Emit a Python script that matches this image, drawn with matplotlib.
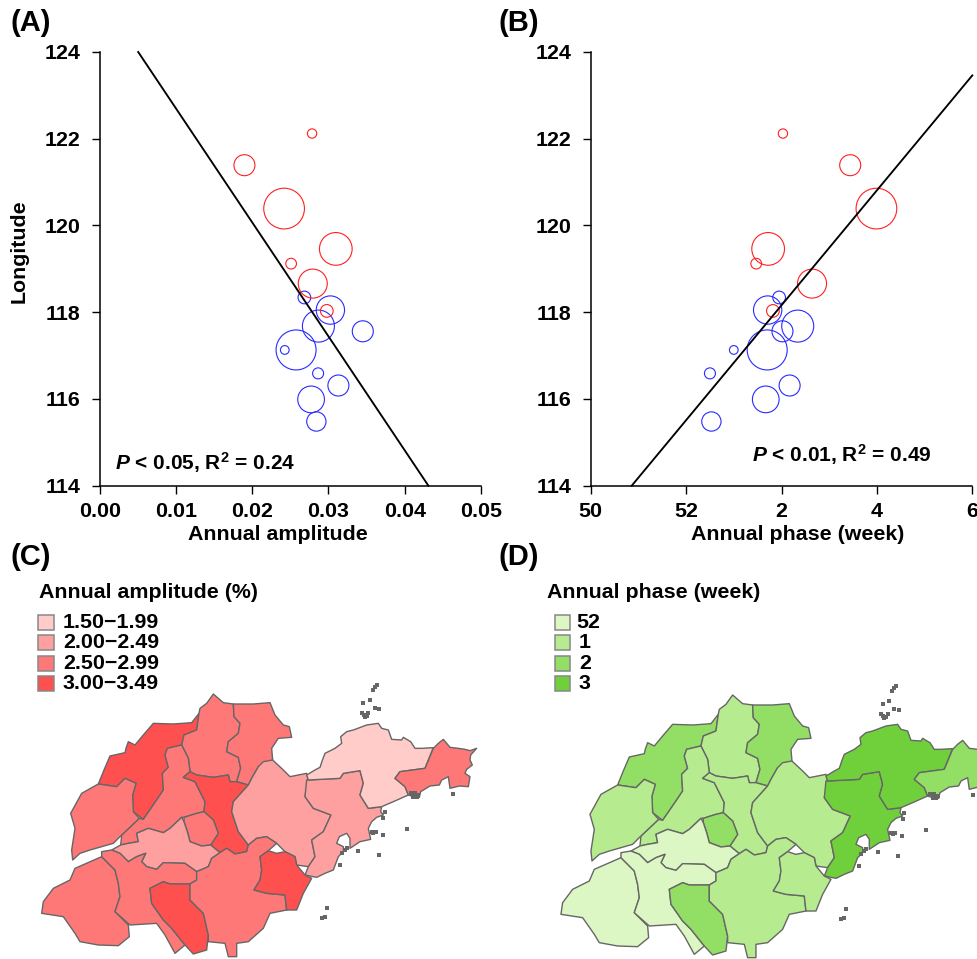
import numpy as np
import matplotlib
matplotlib.use('Agg')
import matplotlib.pyplot as plt
from matplotlib.patches import Polygon, Rectangle

plt.rcParams['font.family'] = 'Liberation Sans'
plt.rcParams['font.weight'] = 'bold'
plt.rcParams['mathtext.fontset'] = 'custom'
plt.rcParams['mathtext.rm'] = 'Liberation Sans:bold'
plt.rcParams['mathtext.it'] = 'Liberation Sans:italic:bold'
plt.rcParams['mathtext.bf'] = 'Liberation Sans:bold'

W, H = 978, 959
FS = 15.4

# stations, north to south
longitude = [122.12, 121.39, 120.39, 119.46, 119.12, 118.66, 118.34, 118.05, 118.03,
             117.68, 117.56, 117.13, 117.13, 116.59, 116.31, 115.99, 115.48]
amplitude = [0.02785, 0.01898, 0.02418, 0.03096, 0.0251, 0.02794, 0.02684, 0.03025, 0.02978,
             0.02868, 0.0345, 0.02575, 0.02427, 0.02864, 0.0313, 0.02772, 0.02841]
phase = [54.03, 55.44, 55.99, 53.72, 53.47, 54.64, 53.95, 53.71, 53.82,
         54.34, 54.02, 53.70, 53.00, 52.50, 54.17, 53.67, 52.53]
diameter = [9.3, 21, 40.7, 32.7, 10.7, 29, 12.7, 28.3, 12.7, 32, 21, 40, 8.7, 11, 21, 26.7, 19.3]
group = ['r', 'r', 'r', 'r', 'r', 'r', 'b', 'b', 'r', 'b', 'b', 'b', 'b', 'b', 'b', 'b', 'b']

fit_a_x = [0.00505, 0.0431]
fit_a_y = [124, 114]
fit_b_x = [50.86, 58]
fit_b_y = [114, 123.46]

phase_ticks = [50, 52, 54, 56, 58]
phase_labels = ['50', '52', '2', '4', '6']

amp_title = 'Annual amplitude (%)'
amp_labels = ['1.50\u22121.99', '2.00\u22122.49', '2.50\u22122.99', '3.00\u22123.49']
amp_colors = ['#FFCCC9', '#FFA0A0', '#FF7878', '#FF5050']
ph_title = 'Annual phase (week)'
ph_labels = ['52', '1', '2', '3']
ph_colors = ['#DCF7C3', '#B6EC8F', '#93DF66', '#70D03C']

# prefecture outlines
dezhou = [(295,312),(312,270),(330,228),(375,218),(378,205),(385,185),(405,195),(430,165),(460,130),(520,132),(575,128),(597,100),(590,150),(552,165),(545,195),(502,205),(495,225),(505,262),(487,280),(490,330),(470,360),(430,418),(400,395),(398,345),(408,310),(375,295),(350,320)]
binzhou = [(597,100),(600,85),(620,70),(640,42),(670,68),(700,72),(702,110),(720,130),(715,160),(685,185),(680,215),(715,232),(722,265),(710,305),(690,305),(685,285),(640,292),(590,285),(570,275),(565,235),(545,195),(552,165),(590,150)]
dongying = [(700,72),(760,72),(810,68),(825,105),(850,135),(868,140),(875,172),(835,175),(815,205),(818,240),(775,260),(755,295),(745,315),(710,305),(722,265),(715,232),(680,215),(685,185),(715,160),(720,130),(702,110)]
jinan = [(502,205),(545,195),(565,235),(570,275),(550,292),(585,305),(615,365),(612,395),(590,400),(552,412),(545,412),(510,445),(490,458),(445,445),(410,460),(415,485),(385,490),(362,495),(365,465),(418,415),(430,418),(470,360),(490,330),(487,280),(505,262),(495,225)]
zibo = [(550,292),(570,275),(590,285),(640,292),(685,285),(690,305),(710,305),(745,315),(700,365),(695,395),(715,455),(745,495),(740,515),(705,522),(680,505),(660,518),(632,495),(655,460),(640,420),(612,395),(615,365),(585,305)]
laiwu = [(552,412),(590,400),(612,395),(640,420),(655,460),(632,495),(605,498),(570,485),(562,455),(552,425)]
weifang = [(745,315),(755,295),(775,260),(790,245),(818,240),(850,270),(870,290),(920,280),(925,300),(915,350),(940,385),(993,405),(970,455),(935,480),(945,530),(925,560),(890,555),(885,530),(855,515),(830,490),(800,470),(770,475),(745,495),(715,455),(695,395),(700,365)]
qingdao = [(920,300),(1020,295),(1030,280),(1080,272),(1090,310),(1080,345),(1105,385),(1145,380),(1142,395),(1150,405),(1130,412),(1115,425),(1105,445),(1112,478),(1080,485),(1050,505),(1050,475),(1040,460),(1018,470),(1010,490),(1030,500),(1030,515),(1015,530),(1000,570),(975,580),(950,592),(915,585),(925,560),(945,530),(935,480),(970,455),(993,405),(940,385),(915,350)]
yantai = [(920,285),(945,270),(960,262),(968,238),(975,220),(1005,205),(1025,190),(1022,170),(1040,155),(1060,150),(1100,135),(1135,130),(1145,145),(1165,150),(1175,178),(1205,180),(1210,172),(1232,185),(1245,205),(1265,205),(1300,203),(1275,265),(1200,275),(1185,295),(1215,320),(1225,345),(1180,365),(1145,380),(1105,385),(1080,345),(1090,310),(1080,272),(1030,280),(1020,295),(925,300)]
weihai = [(1300,205),(1315,190),(1330,178),(1340,190),(1350,202),(1375,205),(1395,208),(1410,212),(1430,205),(1412,225),(1410,240),(1417,255),(1400,268),(1395,280),(1410,290),(1405,320),(1378,318),(1350,325),(1345,290),(1325,300),(1318,315),(1290,318),(1262,335),(1258,352),(1240,350),(1225,345),(1215,320),(1185,295),(1200,275),(1275,265)]
liaocheng = [(295,312),(350,320),(375,295),(408,310),(398,345),(400,395),(418,415),(365,465),(340,490),(270,510),(240,520),(218,540),(215,510),(225,445),(212,400),(245,340)]
taian = [(335,510),(362,495),(385,490),(415,485),(410,460),(445,445),(490,458),(510,445),(545,412),(552,425),(562,455),(570,485),(605,498),(632,495),(660,518),(635,535),(625,560),(590,575),(555,550),(490,548),(470,568),(440,560),(425,545),(437,520),(410,530),(385,545),(360,520)]
heze = [(305,530),(345,570),(355,610),(360,650),(345,695),(385,735),(388,770),(355,797),(295,795),(240,785),(225,760),(190,710),(125,700),(130,665),(160,625),(210,600),(225,565)]
jining = [(305,515),(335,510),(360,520),(385,545),(410,530),(437,520),(425,545),(440,560),(470,568),(490,548),(555,550),(590,575),(590,600),(570,612),(510,612),(490,605),(450,625),(455,670),(490,720),(515,745),(555,795),(525,820),(495,765),(470,730),(390,735),(345,695),(360,650),(355,610),(345,570),(305,530)]
zaozhuang = [(450,625),(490,605),(510,612),(570,612),(570,660),(610,700),(625,765),(620,810),(580,822),(555,795),(515,745),(490,720),(455,670)]
linyi = [(590,600),(590,575),(625,560),(635,535),(660,518),(680,505),(705,522),(740,515),(745,495),(770,475),(800,470),(830,490),(805,512),(780,530),(785,570),(780,600),(762,630),(800,640),(855,645),(860,690),(810,700),(790,745),(745,785),(710,790),(710,830),(685,830),(675,790),(625,785),(625,765),(610,700),(570,660),(570,612)]
rizhao = [(805,512),(830,520),(855,515),(885,530),(890,555),(915,585),(935,595),(910,640),(890,690),(860,690),(855,645),(800,640),(762,630),(780,600),(785,570),(780,530)]

regions = [dezhou, binzhou, dongying, jinan, zibo, laiwu, weifang, qingdao, yantai,
           weihai, liaocheng, taian, heze, jining, zaozhuang, linyi, rizhao]
amp_class = [3, 2, 2, 2, 3, 2, 1, 1, 0, 2, 2, 1, 2, 2, 3, 2, 3]
ph_class = [2, 1, 2, 1, 1, 2, 1, 3, 3, 2, 1, 0, 0, 0, 2, 1, 1]

islands_x = [1130, 1125, 1118, 1110, 1090, 1085, 1092, 1100, 1105, 1095, 1125, 1138, 1360, 1220, 1148, 1137, 1020, 980, 975, 965, 1075,
             1115, 1128, 1120, 1150, 1155, 1232, 1245, 1255, 1240, 1250, 1025, 1035, 1040]
islands_y = [15, 22, 30, 60, 70, 100, 105, 108, 100, 112, 85, 88, 342, 447, 465, 525, 555, 683, 712, 713, 513,
             457, 455, 460, 415, 395, 340, 338, 345, 352, 352, 520, 510, 505]


def scatter_panel(left, right, x, xlim, fit_x, fit_y, xticks, xticklabels, xlabel_x, xlabel):
    top, bottom = 52, 485.7
    ax = fig.add_axes([left / W, 1 - bottom / H, (right - left) / W, (bottom - top) / H])
    ax.patch.set_alpha(0)
    x = np.array(x)
    y = np.array(longitude)
    d = np.array(diameter)
    s = (d * 72 / 100) ** 2
    for g, c in [('b', '#2A2AFF'), ('r', '#FF2020')]:
        m = np.array(group) == g
        ax.scatter(x[m], y[m], s=s[m], facecolors='none', edgecolors=c, linewidths=0.8, clip_on=False)
    ax.plot(fit_x, fit_y, color='black', lw=1.35, clip_on=False)
    ax.set_xlim(xlim)
    ax.set_ylim(114, 124)
    ax.set_xticks(xticks)
    ax.set_xticklabels(xticklabels)
    ax.set_yticks([114, 116, 118, 120, 122, 124])
    ax.tick_params(length=6, width=1.0, labelsize=FS, pad=6)
    ax.tick_params(axis='y', pad=8)
    ax.spines['top'].set_visible(False)
    ax.spines['right'].set_visible(False)
    ax.spines['left'].set_linewidth(1.1)
    ax.spines['bottom'].set_linewidth(1.1)
    ov.text(xlabel_x, 534, xlabel, fontsize=FS, ha='center', va='center')
    return ax


def draw_map(dx, dy, classes, colors):
    for reg, k in zip(regions, classes):
        pts = np.array(reg) / 3 + [dx, dy]
        ov.add_patch(Polygon(pts, closed=True, facecolor=colors[k], edgecolor='#666666', lw=1.0, joinstyle='round'))
    ov.scatter(np.array(islands_x) / 3 + dx, np.array(islands_y) / 3 + dy, s=5, marker='s', color='#666666', linewidths=0)


def draw_legend(box_x, text_x, title_x, title, labels, colors):
    ov.text(title_x, 592, title, fontsize=FS, ha='left', va='center')
    for i, (lab, c) in enumerate(zip(labels, colors)):
        y = 615 + i * 20.4
        ov.add_patch(Rectangle((box_x, y), 15.5, 15, facecolor=c, edgecolor='#888888', lw=1.1))
        ov.text(text_x[i], y + 7.5, lab, fontsize=FS, ha='left', va='center')


fig = plt.figure(figsize=(W / 100, H / 100), dpi=100)
ov = fig.add_axes([0, 0, 1, 1])
ov.set_xlim(0, W)
ov.set_ylim(H, 0)
ov.axis('off')

scatter_panel(99.7, 481, amplitude, (0, 0.05), fit_a_x, fit_a_y,
              [0, 0.01, 0.02, 0.03, 0.04, 0.05], ['0.00', '0.01', '0.02', '0.03', '0.04', '0.05'],
              277.5, 'Annual amplitude')
scatter_panel(590.7, 972.3, phase, (50, 58), fit_b_x, fit_b_y,
              phase_ticks, phase_labels, 798, 'Annual phase (week)')

ov.text(19, 251, 'Longitude', fontsize=FS, rotation=90, ha='center', va='center')
ov.text(115, 463, r'$P$ < 0.05, R$^{2}$ = 0.24', fontsize=15, ha='left', va='center')
ov.text(751.7, 455, r'$P$ < 0.01, R$^{2}$ = 0.49', fontsize=15, ha='left', va='center')

for lab, x, y in [('(A)', 11, 23), ('(B)', 499, 23), ('(C)', 11, 557), ('(D)', 499, 557)]:
    ov.text(x, y, lab, fontsize=21, ha='left', va='center')

draw_map(0, 680, amp_class, amp_colors)
draw_map(519.3, 681, ph_class, ph_colors)
draw_legend(38, [63] * 4, 39, amp_title, amp_labels, amp_colors)
draw_legend(554.5, [576.5, 579, 579, 579], 547, ph_title, ph_labels, ph_colors)

fig.savefig('out.png', dpi=100)
